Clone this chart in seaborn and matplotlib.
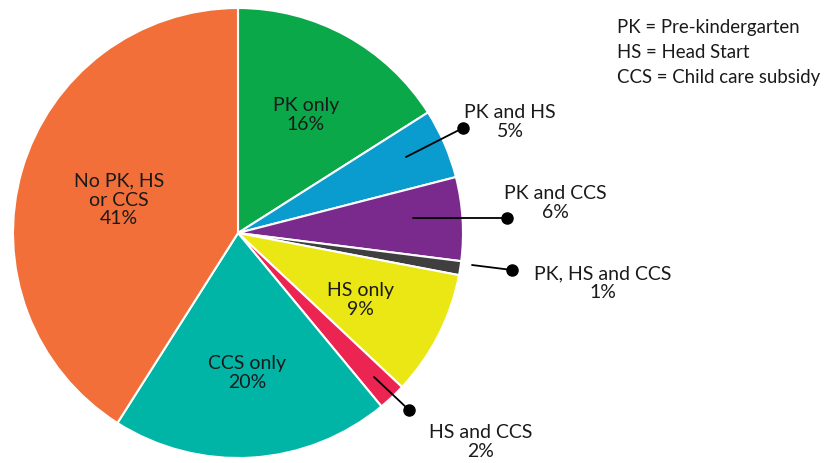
import matplotlib
matplotlib.use("Agg")
import matplotlib.pyplot as plt
import seaborn as sns

# Data
categories = ["PK only", "PK and HS", "PK and CCS", "PK, HS and CCS",
              "HS only", "HS and CCS", "CCS only", "No PK, HS\nor CCS"]
shares = [16, 5, 6, 1, 9, 2, 20, 41]
colors = ["#0ba84a", "#0a9bcf", "#7a2a8c", "#3f3f3f",
          "#ebe714", "#ec2452", "#00b5a6", "#f26f3a"]
legend_lines = ["PK = Pre-kindergarten", "HS = Head Start", "CCS = Child care subsidy"]

sns.set_theme(style="white")
plt.rcParams['font.family'] = ['Lato', 'DejaVu Sans']

W, H = 830, 463
fig = plt.figure(figsize=(W / 100, H / 100), dpi=100)
ax = fig.add_axes([0, 0, 1, 1])

cx, cy, r = 238, H - 233, 225
ax.pie(shares, colors=colors, startangle=90, counterclock=False,
       center=(cx, cy), radius=r, frame=True,
       wedgeprops=dict(edgecolor="white", linewidth=1.5))
ax.set_xlim(0, W)
ax.set_ylim(0, H)
ax.set_aspect("equal")
ax.axis("off")

fs = 14
txt = "#1a1a1a"

def label(i, x, y):
    ax.text(x, H - y, f"{categories[i]}\n{shares[i]}%", ha="center", va="center",
            fontsize=fs, color=txt, linespacing=1.12)

def leader(x0, y0, x1, y1):
    ax.plot([x0, x1], [H - y0, H - y1], color="black", lw=1.3)
    ax.plot([x1], [H - y1], "o", color="black", markersize=8)

# inside labels
label(0, 306, 115)
label(4, 360, 300)
label(6, 247, 373)
label(7, 119, 200)

# outside labels with leaders
label(1, 510, 122)
leader(406, 157, 463, 128)
label(2, 555, 203)
leader(413, 218, 507, 218)
label(3, 603, 283)
leader(472, 265, 512, 270)
label(5, 481, 442)
leader(374, 377, 409, 410)

for k, line in enumerate(legend_lines):
    ax.text(617, H - (27 + 25 * k), line, ha="left", va="center",
            fontsize=13.4, color=txt)

fig.savefig("out.png", dpi=100)
